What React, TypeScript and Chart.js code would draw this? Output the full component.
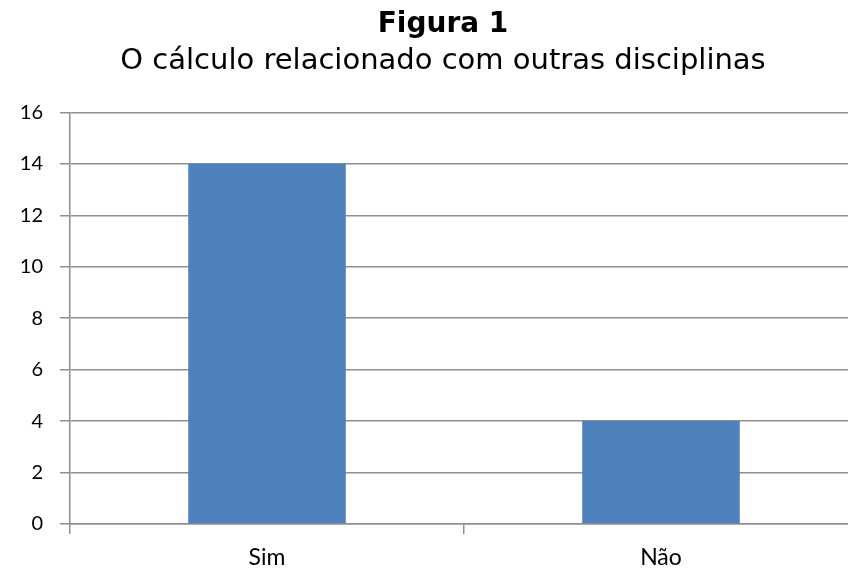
import React, { useEffect, useRef } from "react";
import { Chart, registerables } from "chart.js";

Chart.register(...registerables);

const titleText = "Figura 1";
const subtitleText = "O cálculo relacionado com outras disciplinas";
const categories = ["Sim", "Não"];
const values = [14, 4];
const yMin = 0;
const yMax = 16;
const yStep = 2;

export default function App() {
  const ref = useRef<HTMLCanvasElement | null>(null);

  useEffect(() => {
    if (!ref.current) return;
    const gridColor = "#8f8f8f";
    const chart = new Chart(ref.current, {
      type: "bar",
      data: {
        labels: categories,
        datasets: [
          {
            data: values,
            backgroundColor: "#4f81bd",
            borderWidth: 0,
            barPercentage: 0.4,
            categoryPercentage: 1,
          },
        ],
      },
      options: {
        animation: false,
        responsive: false,
        devicePixelRatio: 1,
        layout: { padding: { left: 0, right: 42, top: 0, bottom: 0 } },
        plugins: {
          legend: { display: false },
          tooltip: { enabled: false },
          title: {
            display: true,
            text: titleText,
            color: "#000",
            font: { family: "'DejaVu Sans', Verdana, sans-serif", size: 28, weight: "bold", lineHeight: 1.2 },
            padding: { top: 8, bottom: 0 },
          },
          subtitle: {
            display: true,
            text: subtitleText,
            color: "#000",
            font: { family: "'DejaVu Sans', Verdana, sans-serif", size: 29, weight: "normal", lineHeight: 1.2 },
            padding: { top: 2, bottom: 34 },
          },
        },
        scales: {
          x: {
            offset: true,
            grid: {
              display: true,
              drawOnChartArea: false,
              drawTicks: true,
              tickLength: 10,
              color: gridColor,
              lineWidth: 1.5,
              offset: true,
            },
            border: { display: true, color: gridColor, width: 1.5 },
            ticks: {
              color: "#000",
              padding: 10,
              font: { family: "Lato, 'Liberation Sans', sans-serif", size: 23 },
            },
            afterFit: (s: any) => {
              s.height = 47;
            },
          },
          y: {
            min: yMin,
            max: yMax,
            ticks: {
              stepSize: yStep,
              color: "#000",
              padding: 17,
              font: { family: "Lato, 'Liberation Sans', sans-serif", size: 20 },
            },
            grid: {
              color: gridColor,
              lineWidth: 1.5,
              drawTicks: true,
              tickLength: 10,
            },
            border: { display: true, color: gridColor, width: 1.5 },
            afterFit: (s: any) => {
              s.width = 70;
            },
          },
          yRight: {
            type: "linear",
            position: "right",
            display: true,
            grid: { display: false, drawTicks: false },
            border: { display: false },
            ticks: { display: false },
            afterFit: (s: any) => {
              s.width = 28;
            },
          },
        },
      },
    });
    return () => chart.destroy();
  }, []);

  return (
    <div
      style={{
        position: "fixed",
        left: 0,
        top: 0,
        width: 848,
        height: 571,
        overflow: "hidden",
        background: "#fff",
      }}
    >
      <canvas ref={ref} width={928} height={571} style={{ display: "block", width: 928, height: 571 }} />
    </div>
  );
}
